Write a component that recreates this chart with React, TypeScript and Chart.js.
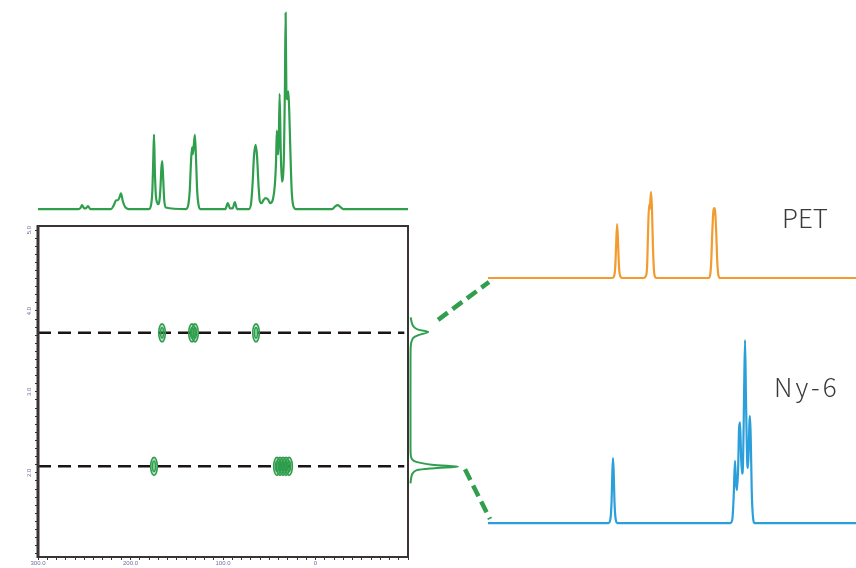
import React, { useEffect, useRef } from 'react';
import { Chart, registerables } from 'chart.js';

Chart.register(...registerables);

const GREEN = '#2f9e4d';
const ORANGE = '#f29b2f';
const BLUE = '#2a9fdb';
const FRAME = '#3a3333';
const DASH = '#1a1414';
const TICK_TEXT = '#6c6f9c';

// chemical-shift axis (ppm), drawn high -> low from left to right
const SHIFT_MIN = -100;
const SHIFT_MAX = 300;
const SHIFT_LABELS = [300, 200, 100, 0];
const SHIFT_MINOR_STEP = 10;

// diffusion axis of the 2D map
const DIFF_MIN = 0.96;
const DIFF_MAX = 5.05;
const DIFF_LABELS = [5, 4, 3, 2];
const DIFF_MINOR_STEP = 0.1;

// component names and their diffusion levels
const COMPONENTS = ['PET', 'Ny-6'];
const PET_DIFF = 3.73;
const NY6_DIFF = 2.08;

// cross peaks (ppm) on each diffusion level
const PET_CROSS = [165.9, 133.5, 130.3, 64.3];
const NY6_CROSS = [174.6, 41.6, 38.4, 35.1, 31.9, 28.6];

// mixture spectrum above the map: [ppm, intensity]
const MIX_SPECTRUM: [number, number][] = [
  [300, 0], [256, 0], [254, 0.6], [252.4, 2], [250.5, 0.6], [248.5, 0.3], [246, 1.5], [243.5, 0],
  [221, 0], [218, 2], [215.5, 4.5], [213.5, 4.5], [211.5, 6.5], [210.3, 8], [208.3, 4], [205.5, 0.8], [202, 0],
  [180, 0], [177.8, 2], [176.4, 9], [175.4, 25], [174.6, 38], [173.7, 20], [172.6, 7], [171.4, 3.5], [170, 2.5],
  [168.8, 4], [167.6, 11], [166.6, 21], [165.7, 24.5], [164.7, 16], [163.6, 5], [162, 0.8],
  [140, 0], [137.6, 2], [136, 9], [134.7, 23], [133.5, 31.5], [132.6, 28], [131.5, 33], [130.4, 37.8],
  [129.2, 26], [127.9, 9], [126.4, 2], [124.5, 0],
  [97.5, 0], [94.8, 3], [92.3, 0.3], [89.6, 0.3], [87.2, 3.5], [84.8, 0],
  [72, 0], [69.6, 3], [68, 13], [66.5, 27], [64.8, 32.7], [63.2, 27], [61.7, 13], [60.2, 4],
  [58.3, 3], [56.3, 4.5], [54, 5.6], [51.5, 5], [49, 3],
  [46, 5], [44, 12], [42.6, 25], [41.8, 40], [41, 30], [40, 28], [38.8, 58.7], [37.6, 30], [36.4, 14],
  [35.2, 16], [34, 30], [33.1, 60], [32.3, 100], [31.5, 60], [30.3, 56], [29.4, 60], [28.4, 50],
  [27.2, 30], [25.8, 10], [24.2, 2], [21.5, 0],
  [-18, 0], [-21, 1.2], [-24, 2], [-27, 1], [-30, 0], [-100, 0],
];

// projection on the diffusion axis: [diffusion, intensity]
const DIFF_PROJECTION: [number, number][] = [
  [3.92, 0.5], [3.87, 2], [3.81, 6], [3.77, 16], [3.74, 37], [3.70, 16], [3.67, 6], [3.62, 2], [3.56, 0.5],
  [3.4, 0], [2.4, 0],
  [2.22, 0.5], [2.17, 3], [2.135, 12], [2.10, 45], [2.075, 100], [2.055, 45], [2.03, 12], [1.99, 4],
  [1.94, 1.5], [1.90, 0.5], [1.87, 0],
];

// separated component spectra: [ppm, intensity]
const PET_SPECTRUM: [number, number][] = [
  [301, 0], [171.2, 0], [169.2, 2], [167.9, 12], [166.9, 40], [165.9, 62.8], [164.9, 40], [163.9, 12],
  [162.6, 2], [160.6, 0],
  [138, 0], [136, 2], [134.6, 12], [133.5, 55], [132.5, 85], [131.8, 80], [131, 93], [130.3, 100],
  [129.4, 78], [128.4, 35], [127.3, 8], [126, 1], [124.5, 0],
  [70.5, 0], [68.7, 3], [67.5, 18], [66.4, 52], [65.3, 77], [64.3, 81.4], [63.3, 77], [62.2, 52],
  [61.1, 18], [59.9, 3], [58.1, 0], [-84, 0],
];

const NY6_SPECTRUM: [number, number][] = [
  [301, 0], [175, 0], [173, 2], [171.7, 12], [170.9, 28], [170.2, 35.5], [169.5, 28], [168.7, 12],
  [167.4, 2], [165.5, 0],
  [47.5, 0], [45.4, 2], [44, 14], [42.6, 34], [41.6, 22], [40.5, 18], [39.3, 30], [38.3, 52], [37.3, 55],
  [36.2, 36], [35.2, 27], [34.2, 32], [33.1, 70], [32.1, 100], [31.1, 68], [30, 36], [29, 30], [28, 45],
  [27.4, 56], [26.9, 58.5], [26.1, 46], [25.1, 18], [23.9, 4], [22, 0], [-84, 0],
];

// page placement of each panel
const BOX = {
  mix: { left: 38, top: 8, width: 370, height: 204 },
  map: { left: 0, top: 215, width: 420, height: 353 },
  proj: { left: 405, top: 226, width: 60, height: 331 },
  pet: { left: 488, top: 180, width: 368, height: 104 },
  ny6: { left: 488, top: 330, width: 368, height: 200 },
};

const MIX_RANGE = [-1.5, 102.5];
const PROJ_RANGE = [-11.6, 114.7];
const PET_RANGE = [-7, 114];
const NY6_RANGE = [-3.8, 105.5];
const SPEC_SHIFT = [-84, 301];

const baseOptions = {
  animation: false,
  responsive: false,
  events: [],
  layout: { padding: 0 },
  plugins: { legend: { display: false }, tooltip: { enabled: false } },
};

function traceChart(canvas: HTMLCanvasElement, points: [number, number][], color: string,
  xr: number[], yr: number[]) {
  return new Chart(canvas, {
    type: 'line',
    data: {
      datasets: [{
        data: points.map(([x, y]) => ({ x, y })),
        borderColor: color,
        borderWidth: 2.2,
        pointRadius: 0,
        cubicInterpolationMode: 'monotone',
        fill: false,
      }],
    },
    options: {
      ...baseOptions,
      scales: {
        x: { type: 'linear', display: false, reverse: true, min: xr[0], max: xr[1] },
        y: { type: 'linear', display: false, min: yr[0], max: yr[1] },
      },
    },
  } as any);
}

// outline of the plotting box
const framePlugin = {
  id: 'frame',
  afterDraw(chart: any) {
    const { ctx, chartArea: a } = chart;
    ctx.save();
    ctx.strokeStyle = FRAME;
    ctx.lineWidth = 2;
    ctx.strokeRect(a.left, a.top, a.right - a.left, a.bottom - a.top);
    ctx.lineWidth = 3;
    ctx.beginPath();
    ctx.moveTo(a.left, a.top - 1);
    ctx.lineTo(a.left, a.bottom + 1);
    ctx.stroke();
    ctx.restore();
  },
};

// contour rings for the cross peaks
const spotPlugin = {
  id: 'spots',
  afterDatasetsDraw(chart: any) {
    const ctx = chart.ctx;
    chart.data.datasets.forEach((ds: any, i: number) => {
      if (!ds.spot) return;
      chart.getDatasetMeta(i).data.forEach((el: any) => {
        ctx.save();
        ctx.strokeStyle = GREEN;
        ctx.fillStyle = 'rgba(47,158,77,0.28)';
        ctx.lineWidth = 1.6;
        ctx.beginPath();
        ctx.ellipse(el.x, el.y, 3.3, 9, 0, 0, Math.PI * 2);
        ctx.fill();
        ctx.stroke();
        ctx.beginPath();
        ctx.ellipse(el.x, el.y, 1.4, 5.2, 0, 0, Math.PI * 2);
        ctx.stroke();
        ctx.restore();
      });
    });
  },
};

function levelLine(d: number) {
  return {
    data: [{ x: SHIFT_MAX, y: d }, { x: SHIFT_MIN + 4, y: d }],
    borderColor: DASH,
    borderWidth: 2.5,
    borderDash: [13, 7],
    pointRadius: 0,
    fill: false,
  };
}

function spotSet(shifts: number[], d: number) {
  return {
    data: shifts.map((x) => ({ x, y: d })),
    showLine: false,
    pointRadius: 0,
    spot: true,
  };
}

function mapChart(canvas: HTMLCanvasElement) {
  return new Chart(canvas, {
    type: 'line',
    data: {
      datasets: [
        levelLine(PET_DIFF),
        levelLine(NY6_DIFF),
        spotSet(PET_CROSS, PET_DIFF),
        spotSet(NY6_CROSS, NY6_DIFF),
      ],
    },
    options: {
      ...baseOptions,
      layout: { padding: { top: 11, right: 12, left: 0, bottom: 0 } },
      scales: {
        x: {
          type: 'linear', reverse: true, min: SHIFT_MIN, max: SHIFT_MAX,
          afterFit: (s: any) => { s.height = 11; },
          afterBuildTicks: (s: any) => {
            const t = [];
            for (let v = SHIFT_MIN; v <= SHIFT_MAX; v += SHIFT_MINOR_STEP) t.push({ value: v });
            s.ticks = t;
          },
          ticks: {
            autoSkip: false, maxRotation: 0, minRotation: 0, padding: 0,
            color: TICK_TEXT, font: { size: 6, family: 'Liberation Sans' },
            callback: (v: number) => (SHIFT_LABELS.includes(v) ? (v === 0 ? '0' : v.toFixed(1)) : ''),
          },
          grid: { drawOnChartArea: false, tickLength: 3, color: FRAME, lineWidth: 1 },
          border: { display: false },
        },
        y: {
          type: 'linear', min: DIFF_MIN, max: DIFF_MAX,
          afterFit: (s: any) => { s.width = 38; },
          afterBuildTicks: (s: any) => {
            const t = [];
            const n = Math.round((DIFF_LABELS[0] - 1) / DIFF_MINOR_STEP);
            for (let k = 0; k <= n; k++) t.push({ value: Math.round((1 + k * DIFF_MINOR_STEP) * 10) / 10 });
            s.ticks = t;
          },
          ticks: {
            autoSkip: false, minRotation: 90, maxRotation: 90, padding: 1, crossAlign: 'center',
            color: TICK_TEXT, font: { size: 6, family: 'Liberation Sans' },
            callback: (v: number) => (DIFF_LABELS.includes(v) ? v.toFixed(1) : ''),
          },
          grid: { drawOnChartArea: false, tickLength: 3, color: FRAME, lineWidth: 1 },
          border: { display: false },
        },
      },
    },
    plugins: [spotPlugin, framePlugin],
  } as any);
}

function projectionChart(canvas: HTMLCanvasElement) {
  return new Chart(canvas, {
    type: 'line',
    data: {
      datasets: [{
        data: DIFF_PROJECTION.map(([d, i]) => ({ x: i, y: d })),
        borderColor: GREEN,
        borderWidth: 2,
        pointRadius: 0,
        tension: 0.3,
        fill: false,
      }],
    },
    options: {
      ...baseOptions,
      indexAxis: 'y',
      scales: {
        x: { type: 'linear', display: false, min: PROJ_RANGE[0], max: PROJ_RANGE[1] },
        y: { type: 'linear', display: false, min: DIFF_MIN, max: DIFF_MAX },
      },
    },
  } as any);
}

function pos(b: { left: number; top: number; width: number; height: number }) {
  return { position: 'absolute' as const, left: b.left, top: b.top, width: b.width, height: b.height };
}

export default function App() {
  const mixRef = useRef<HTMLCanvasElement>(null);
  const mapRef = useRef<HTMLCanvasElement>(null);
  const projRef = useRef<HTMLCanvasElement>(null);
  const petRef = useRef<HTMLCanvasElement>(null);
  const ny6Ref = useRef<HTMLCanvasElement>(null);
  const linkRef = useRef<HTMLCanvasElement>(null);

  useEffect(() => {
    const mix = traceChart(mixRef.current!, MIX_SPECTRUM, GREEN, [SHIFT_MIN, SHIFT_MAX], MIX_RANGE);
    const map = mapChart(mapRef.current!);
    const proj = projectionChart(projRef.current!);
    const pet = traceChart(petRef.current!, PET_SPECTRUM, ORANGE, SPEC_SHIFT, PET_RANGE);
    const ny6 = traceChart(ny6Ref.current!, NY6_SPECTRUM, BLUE, SPEC_SHIFT, NY6_RANGE);

    // dashed links from the diffusion peaks to the separated spectra
    const link = linkRef.current!;
    const ctx = link.getContext('2d')!;
    ctx.clearRect(0, 0, link.width, link.height);
    const petPeak = Math.max(...DIFF_PROJECTION.filter(([d]) => d > 3).map(([, i]) => i));
    const nyPeak = Math.max(...DIFF_PROJECTION.filter(([d]) => d < 3).map(([, i]) => i));
    const px = (c: any, b: any, v: number) => b.left + c.scales.x.getPixelForValue(v);
    const py = (c: any, b: any, v: number) => b.top + c.scales.y.getPixelForValue(v);
    const links = [
      [px(proj, BOX.proj, petPeak) + 10, py(proj, BOX.proj, PET_DIFF) - 13,
        BOX.pet.left + 1, py(pet, BOX.pet, 0) + 4],
      [px(proj, BOX.proj, nyPeak) + 7, py(proj, BOX.proj, NY6_DIFF) + 3,
        BOX.ny6.left + 2, py(ny6, BOX.ny6, 0) - 4],
    ];
    ctx.save();
    ctx.strokeStyle = GREEN;
    ctx.lineWidth = 4.5;
    ctx.setLineDash([12, 6]);
    links.forEach(([x1, y1, x2, y2]) => {
      ctx.beginPath();
      ctx.moveTo(x1, y1);
      ctx.lineTo(x2, y2);
      ctx.stroke();
    });
    ctx.restore();

    return () => {
      mix.destroy();
      map.destroy();
      proj.destroy();
      pet.destroy();
      ny6.destroy();
    };
  }, []);

  const labelStyle = {
    position: 'absolute' as const,
    fontFamily: '"Noto Sans CJK JP", "Noto Sans", sans-serif',
    fontWeight: 300,
    fontSize: 26,
    lineHeight: '26px',
    color: '#3a3a3a',
    whiteSpace: 'nowrap' as const,
  };

  return (
    <div style={{ position: 'absolute', left: 0, top: 0, width: 856, height: 568, background: '#fff', overflow: 'hidden' }}>
      <canvas ref={mixRef} width={BOX.mix.width} height={BOX.mix.height} style={pos(BOX.mix)} />
      <canvas ref={mapRef} width={BOX.map.width} height={BOX.map.height} style={pos(BOX.map)} />
      <canvas ref={projRef} width={BOX.proj.width} height={BOX.proj.height} style={pos(BOX.proj)} />
      <canvas ref={petRef} width={BOX.pet.width} height={BOX.pet.height} style={pos(BOX.pet)} />
      <canvas ref={ny6Ref} width={BOX.ny6.width} height={BOX.ny6.height} style={pos(BOX.ny6)} />
      <canvas ref={linkRef} width={856} height={568}
        style={{ position: 'absolute', left: 0, top: 0, width: 856, height: 568, pointerEvents: 'none' }} />
      <div style={{ ...labelStyle, left: 782, top: 204 }}>{COMPONENTS[0]}</div>
      <div style={{ ...labelStyle, left: 774, top: 373, letterSpacing: 3 }}>{COMPONENTS[1]}</div>
    </div>
  );
}
